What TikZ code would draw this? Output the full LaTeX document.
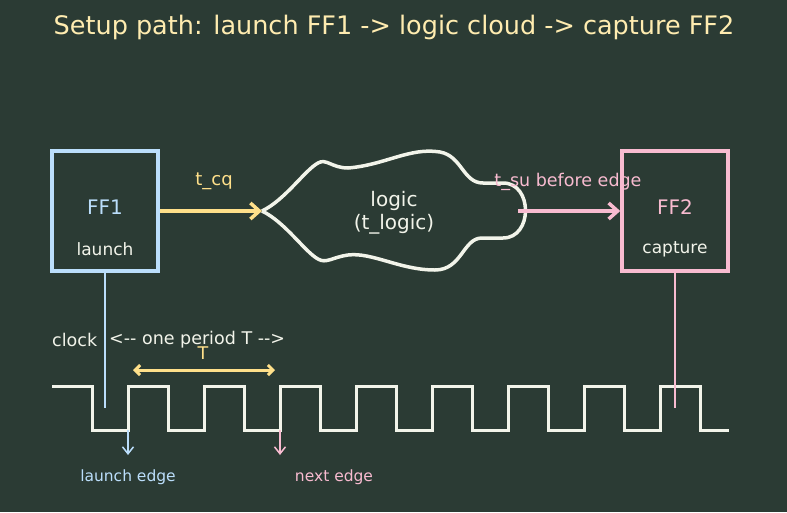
\documentclass[tikz,border=0pt]{standalone}
\usepackage{fontspec}
\setmainfont{DejaVu Sans}
\usetikzlibrary{positioning,arrows.meta}
\definecolor{bgc}{HTML}{2B3B34}
\definecolor{ffblue}{HTML}{BBDEFB}
\definecolor{ffpink}{HTML}{F8BBD0}
\definecolor{amber}{HTML}{FFE08A}
\definecolor{chalk}{HTML}{F2F4EA}
\definecolor{titlec}{HTML}{FFECB0}
\tikzset{
ffbox/.style = {draw=#1, line width=3.5pt, minimum width=106pt, minimum height=120pt, inner sep=0pt},
lbl/.style = {inner sep=0pt, font=\fontsize{#1}{#1}\selectfont},
lbl/.default = 17.5,
wire/.style = {line width=3.5pt, -{Straight Barb[length=9pt,width=16pt,line width=3.5pt]}},
tap/.style = {line width=2pt},
edgetip/.style = {line width=1.5pt, -{Straight Barb[length=7pt,width=11pt]}}
}

\begin{document}
\begin{tikzpicture}[x=1pt,y=-1pt]
  \fill[bgc] (0,0) rectangle (787,512);
  \useasboundingbox (0,0) rectangle (787,512);
  % title
  \node[lbl=25.5, text=titlec] (title) at (394,27) {Setup path: launch FF1 -> logic cloud -> capture FF2};
  % flip-flops
  \node[ffbox=ffblue] (ff1) at (105,211) {};
  \node[ffbox=ffpink] (ff2) at (675,211) {};
  \node[lbl=20, text=ffblue] (ff1name) at (105,207) {FF1};
  \node[lbl=17, text=chalk] (ff1role) at (105,249) {launch};
  \node[lbl=20, text=ffpink] (ff2name) at (675,207) {FF2};
  \node[lbl=17, text=chalk] (ff2role) at (675,249) {capture};
  % logic cloud
  \coordinate (cloudL) at (262,211);
  \coordinate (cloudR) at (518,211);
  \draw[chalk, line width=3.5pt, line join=round]
    (cloudL) .. controls (285,200) and (305,170) .. (318,163)
    .. controls (326,158) and (332,168) .. (348,168)
    .. controls (385,165) and (410,147) .. (440,152)
    .. controls (462,156) and (463,183) .. (483,183) -- (503,183)
    .. controls (533,183) and (533,238) .. (503,238) -- (482,238)
    .. controls (463,238) and (462,270) .. (435,270)
    .. controls (400,270) and (372,252) .. (348,255)
    .. controls (333,257) and (326,264) .. (318,259)
    .. controls (305,252) and (285,222) .. (cloudL);
  \node[lbl=20, text=chalk, align=center, font=\fontsize{20}{23}\selectfont] (logic) at (394,213) {logic\\(t\_logic)};
  % data path
  \draw[wire, amber] (ff1.east) -- (cloudL);
  \node[lbl=18, text=amber] (tcq) at (214,181) {t\_cq};
  \draw[wire, ffpink] (cloudR) -- (ff2.west);
  \node[lbl, text=ffpink] (tsu) at (568,182) {t\_su before edge};
  % clock
  \node[lbl, text=chalk, anchor=west] (clk) at (52,340) {clock};
  \node[lbl, text=chalk, anchor=west] (period) at (109,340) {<-{}- one period T -{}->};
  \node[lbl, text=amber] (tname) at (203,353) {T};
  \coordinate (tA) at (133,370);
  \coordinate (tB) at (275,370);
  \draw[amber, line width=3pt, {Straight Barb[length=5pt,width=10pt,line width=3pt]}-{Straight Barb[length=5pt,width=10pt,line width=3pt]}] (tA) -- (tB);
  \draw[chalk, line width=3pt] (52,386) -- (92,386)
    \foreach \k in {1,...,8} { -- ++(0,44) -- ++(36,0) -- ++(0,-44) -- ++(40,0) }
    -- ++(0,44) -- (729,430);
  \coordinate (ff1tap) at (105,408);
  \coordinate (ff2tap) at (675,408);
  \draw[tap, ffblue] (ff1.south) -- (ff1tap);
  \draw[tap, ffpink] (ff2.south) -- (ff2tap);
  % edges
  \coordinate (launchA) at (128,430);
  \coordinate (launchB) at (128,455);
  \coordinate (nextA) at (280,430);
  \coordinate (nextB) at (280,455);
  \draw[edgetip, ffblue] (launchA) -- (launchB);
  \draw[edgetip, ffpink] (nextA) -- (nextB);
  \node[lbl=15.5, text=ffblue] (launchlbl) at (128,477) {launch edge};
  \node[lbl=15.5, text=ffpink] (nextlbl) at (334,477) {next edge};
\end{tikzpicture}
\end{document}
